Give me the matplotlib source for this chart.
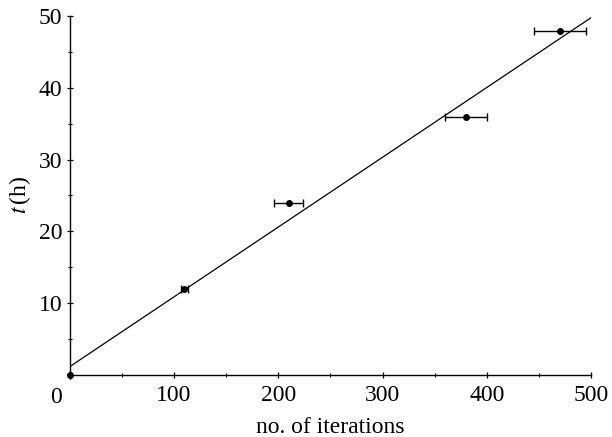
import matplotlib.pyplot as plt
import numpy as np
from matplotlib.ticker import MultipleLocator

plt.rcParams['font.family'] = ['Liberation Serif', 'DejaVu Serif']
plt.rcParams['mathtext.fontset'] = 'stix'

# dados
iterations = [0, 110, 210, 380, 470]
hours = [0, 12, 24, 36, 48]
iter_err = [0, 3, 14, 20, 25]

# reta ajustada
fit_x = [0, 500]
fit_y = [1.1, 49.8]

fig = plt.figure(figsize=(6.12, 4.37), dpi=100)
ax = fig.add_axes([0.114, 0.143, 0.852, 0.82])

ax.plot(fit_x, fit_y, color='black', linewidth=0.9)
ax.errorbar(iterations, hours, xerr=iter_err, fmt='o', color='black',
            markersize=4, elinewidth=1.0, capsize=3, capthick=1.0,
            clip_on=False, zorder=3)

ax.set_xlim(0, 500)
ax.set_ylim(0, 50)
ax.spines['top'].set_visible(False)
ax.spines['right'].set_visible(False)
for s in ['left', 'bottom']:
    ax.spines[s].set_linewidth(1.0)

ax.xaxis.set_major_locator(MultipleLocator(100))
ax.xaxis.set_minor_locator(MultipleLocator(50))
ax.yaxis.set_major_locator(MultipleLocator(10))
ax.yaxis.set_minor_locator(MultipleLocator(5))
ax.tick_params(which='major', direction='inout', length=4.5, width=0.9,
               labelsize=17)
ax.tick_params(axis='x', which='major', pad=5)
ax.tick_params(axis='y', which='major', pad=3)
ax.tick_params(which='minor', direction='inout', length=2.6, width=0.8)

ax.set_xticks([100, 200, 300, 400, 500])
ax.set_yticks([10, 20, 30, 40, 50])
ax.text(-13, -1.8, '0', fontsize=17, ha='center', va='top')

ax.set_xlabel('no. of iterations', fontsize=17, labelpad=8)
ax.set_ylabel(r'$t\,$(h)', fontsize=17, labelpad=4)

fig.savefig('out.png', dpi=100)
